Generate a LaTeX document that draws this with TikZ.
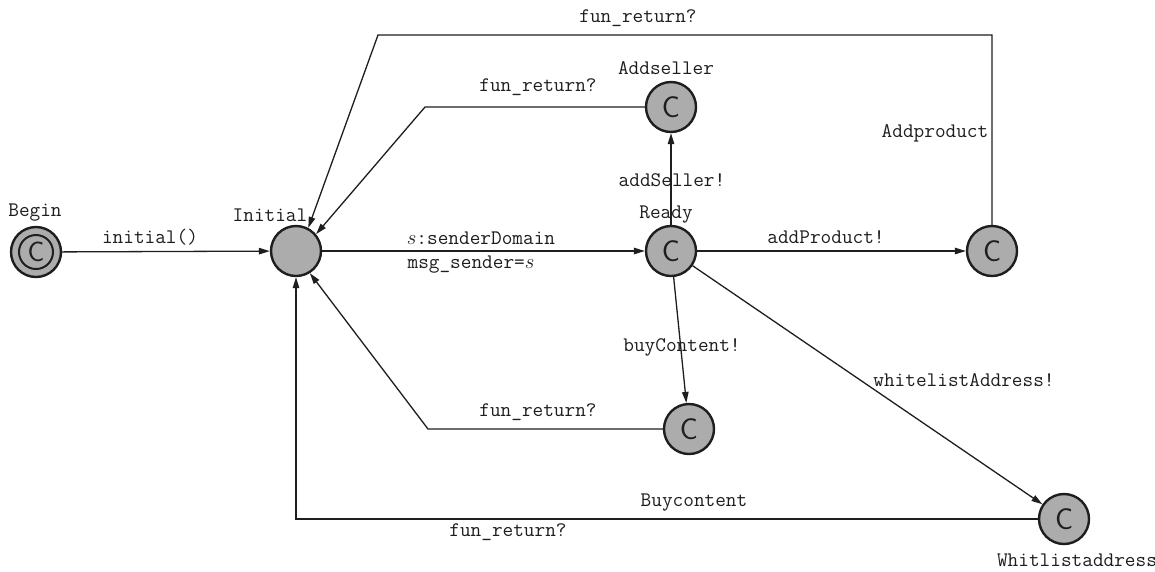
\documentclass[tikz,border=0pt]{standalone}
\usetikzlibrary{arrows.meta}
\definecolor{locfill}{RGB}{172,172,172}
\definecolor{ink}{RGB}{30,30,30}
\tikzset{
  loc/.style={circle, draw=ink, line width=2.4pt, fill=locfill, minimum size=50pt,
    inner sep=0pt, text=ink, font=\sffamily\fontsize{30}{30}\selectfont},
  lab/.style={inner sep=0pt, text=ink, font=\ttfamily\fontsize{20.7}{24}\selectfont},
  edge/.style={draw=ink, line width=1.3pt, -{Triangle[length=11pt,width=6.5pt]}},
}
\begin{document}
\begin{tikzpicture}[x=1pt,y=-1pt]
\useasboundingbox (0,0) rectangle (1155,571);

% locations
\node[loc, font=\sffamily\fontsize{28}{28}\selectfont] (begin) at (36,252) {C};
\draw[ink, line width=2pt] (begin.center) circle (17);
\node[loc] (initial) at (296,251) {};
\node[loc] (ready) at (671,251) {C};
\node[loc] (addseller) at (671,107) {C};
\node[loc] (addproduct) at (992,251) {C};
\node[loc] (buycontent) at (689,429) {C};
\node[loc] (whitlist) at (1064,519) {C};

% location names
\node[lab] (nbegin) at (35,213) {Begin};
\node[lab] (ninitial) at (270,215) {Initial};
\node[lab] (nready) at (666,215) {Ready};
\node[lab] (naddseller) at (666,68) {Addseller};
\node[lab] (naddproduct) at (935,133) {Addproduct};
\node[lab] (nbuycontent) at (694,503) {Buycontent};
\node[lab] (nwhitlist) at (1077,560) {Whitlistaddress};

% bend points of the return edges
\coordinate (top1) at (992,35);
\coordinate (top2) at (378,35);
\coordinate (as1) at (425,107);
\coordinate (bc1) at (428,429);
\coordinate (wl1) at (296,519);

% transitions
\draw[edge] (begin) -- (initial);
\draw[edge] (initial) -- (ready);
\draw[edge] (ready) -- (addseller);
\draw[edge] (ready) -- (addproduct);
\draw[edge] (ready) -- (buycontent);
\draw[edge] (ready) -- (whitlist);
\draw[edge] (addseller) -- (as1) -- (initial.40);
\draw[edge] (addproduct) -- (top1) -- (top2) -- (initial.62);
\draw[edge] (buycontent) -- (bc1) -- (initial.-58);
\draw[edge] (whitlist) -- (wl1) -- (initial);

% transition labels
\node[lab] (l1) at (150,237) {initial()};
\node[lab] (l2) at (481,238) {$s$:senderDomain};
\node[lab] (l3) at (471,265) {msg\_sender=$s$};
\node[lab] (l4) at (672,180) {addSeller!};
\node[lab] (l5) at (826,237) {addProduct!};
\node[lab] (l6) at (682,347) {buyContent!};
\node[lab] (l7) at (964,380) {whitelistAddress!};
\node[lab] (l8) at (538,87) {fun\_return?};
\node[lab] (l9) at (638,18) {fun\_return?};
\node[lab] (l10) at (538,412) {fun\_return?};
\node[lab] (l11) at (508,532) {fun\_return?};
\end{tikzpicture}
\end{document}
